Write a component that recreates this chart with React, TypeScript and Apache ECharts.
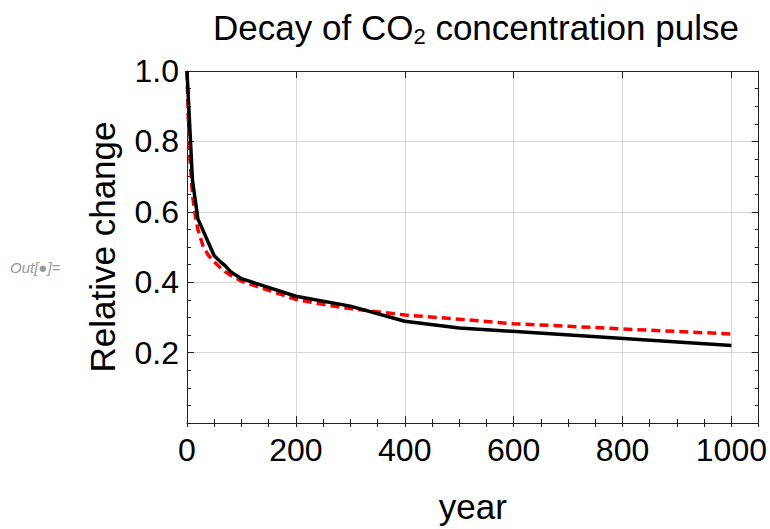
import React, { useEffect, useRef } from "react";
import * as echarts from "echarts";

// Simulated pulse response (solid black)
const modelYears = [0, 10, 20, 30, 40, 50, 60, 70, 80, 90, 100, 200, 300, 400, 500, 1000];
const modelValues = [1.0, 0.69, 0.58, 0.545, 0.51, 0.475, 0.46, 0.447, 0.43, 0.42, 0.41, 0.36, 0.332, 0.289, 0.27, 0.22];

// Fitted decay curve (red dashed)
const fitYears = [0, 2, 5, 10, 15, 20, 30, 40, 50, 60, 70, 80, 100, 150, 200, 250, 300, 400, 500, 600, 700, 800, 900, 1000];
const fitValues = [1.0, 0.88, 0.76, 0.65, 0.59, 0.55, 0.5, 0.475, 0.458, 0.443, 0.43, 0.42, 0.403, 0.377, 0.351, 0.337, 0.325, 0.307, 0.295, 0.282, 0.275, 0.267, 0.26, 0.253];

const xMajorTicks = [0, 200, 400, 600, 800, 1000];
const yMajorTicks = [0.2, 0.4, 0.6, 0.8, 1.0];

const FONT = "'Liberation Sans', Arial, sans-serif";
const FRAME = "#222";

export default function App() {
  const ref = useRef<HTMLDivElement>(null);
  useEffect(() => {
    if (!ref.current) return;
    const chart = echarts.init(ref.current, undefined, { renderer: "svg" });
    const xBase = {
      type: "value" as const,
      min: 0,
      max: 1050,
    };
    chart.setOption({
      animation: false,
      textStyle: { fontFamily: FONT },
      title: {
        text: "Decay of CO{sub|2} concentration pulse",
        left: 476,
        top: 8,
        textAlign: "center",
        padding: 0,
        textStyle: {
          fontFamily: FONT,
          fontSize: 35,
          fontWeight: "normal",
          color: "#000",
          lineHeight: 39,
          rich: {
            sub: { fontFamily: FONT, fontSize: 22, lineHeight: 20, verticalAlign: "bottom", color: "#000" },
          },
        },
      },
      graphic: [
        {
          type: "text",
          left: 10,
          top: 260,
          style: { text: "Out[\u25CF]=", fontSize: 15, fontStyle: "italic", fill: "#9a9a9a", fontFamily: FONT },
        },
      ],
      grid: { left: 187, right: 10, top: 71, bottom: 101, containLabel: false },
      xAxis: [
        {
          ...xBase,
          position: "bottom",
          interval: 200,
          name: "year",
          nameLocation: "middle",
          nameGap: 66,
          nameTextStyle: { fontSize: 35, color: "#000", fontFamily: FONT },
          axisLine: { show: true, onZero: false, lineStyle: { color: FRAME, width: 1 } },
          axisTick: { show: true, inside: true, length: 7, lineStyle: { color: FRAME } },
          axisLabel: {
            fontSize: 32,
            color: "#000",
            margin: 11,
            fontFamily: FONT,
            formatter: (v: number) => (xMajorTicks.includes(v) ? String(v) : ""),
          },
          splitLine: { show: true, lineStyle: { color: "#d6d6d6", width: 1 } },
        },
        {
          ...xBase,
          position: "bottom",
          interval: 50,
          axisLine: { show: false },
          axisTick: { show: true, inside: true, length: 4, lineStyle: { color: FRAME } },
          axisLabel: { show: false },
          splitLine: { show: false },
        },
        {
          ...xBase,
          position: "top",
          interval: 200,
          axisLine: { show: true, onZero: false, lineStyle: { color: FRAME, width: 1 } },
          axisTick: { show: true, inside: true, length: 7, lineStyle: { color: FRAME } },
          axisLabel: { show: false },
          splitLine: { show: false },
        },
        {
          ...xBase,
          position: "top",
          interval: 50,
          axisLine: { show: false },
          axisTick: { show: true, inside: true, length: 4, lineStyle: { color: FRAME } },
          axisLabel: { show: false },
          splitLine: { show: false },
        },
      ],
      yAxis: [
        {
          type: "value",
          position: "left",
          min: 0,
          max: 1,
          interval: 0.2,
          name: "Relative change",
          nameLocation: "middle",
          nameGap: 67,
          nameTextStyle: { fontSize: 35, color: "#000", fontFamily: FONT },
          axisLine: { show: true, onZero: false, lineStyle: { color: FRAME, width: 1 } },
          axisTick: { show: true, inside: true, length: 7, lineStyle: { color: FRAME } },
          minorTick: { show: true, splitNumber: 4, length: 4, lineStyle: { color: FRAME } },
          axisLabel: {
            fontSize: 32,
            color: "#000",
            margin: 8,
            fontFamily: FONT,
            formatter: (v: number) => {
              const t = yMajorTicks.find((m) => Math.abs(m - v) < 1e-6);
              return t === undefined ? "" : t.toFixed(1);
            },
          },
          splitLine: { show: true, lineStyle: { color: "#d6d6d6", width: 1 } },
        },
        {
          type: "value",
          position: "right",
          min: 0,
          max: 1,
          interval: 0.2,
          axisLine: { show: true, onZero: false, lineStyle: { color: FRAME, width: 1 } },
          axisTick: { show: true, inside: true, length: 7, lineStyle: { color: FRAME } },
          minorTick: { show: true, splitNumber: 4, length: 4, lineStyle: { color: FRAME } },
          axisLabel: { show: false },
          splitLine: { show: false },
        },
      ],
      series: [
        {
          name: "Fit",
          type: "line",
          xAxisIndex: 0,
          yAxisIndex: 0,
          showSymbol: false,
          data: fitYears.map((y, i) => [y, fitValues[i]]),
          lineStyle: { color: "#ff0000", width: 3.5, type: [9, 5] },
        },
        {
          name: "Model",
          type: "line",
          xAxisIndex: 0,
          yAxisIndex: 0,
          showSymbol: false,
          data: modelYears.map((y, i) => [y, modelValues[i]]),
          lineStyle: { color: "#000", width: 3.5 },
        },
      ],
    });
    return () => chart.dispose();
  }, []);
  return (
    <div
      ref={ref}
      style={{ position: "absolute", left: 0, top: 0, width: 770, height: 529, background: "#fff" }}
    />
  );
}
